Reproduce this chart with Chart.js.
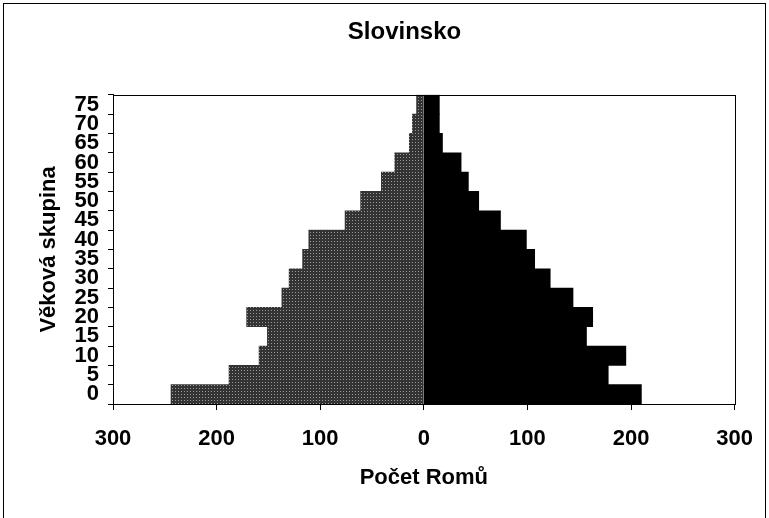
<!DOCTYPE html>
<html>
<head>
<meta charset="utf-8">
<script src="https://cdn.jsdelivr.net/npm/chart.js@4.4.1/dist/chart.umd.min.js"></script>
<style>
  html, body { margin: 0; padding: 0; background: #fff; }
  #wrap { width: 769px; height: 518px; }
</style>
</head>
<body>
<div id="wrap"><canvas id="pyramid" width="769" height="518"></canvas></div>
<script>
// vekove skupiny (zdola nahoru)
var ageGroups = ['0', '5', '10', '15', '20', '25', '30', '35', '40', '45', '50', '55', '60', '65', '70', '75'];
// leva strana (seda)
var leftValues = [244, 188, 159, 151, 171, 137, 130, 117, 111, 76, 61, 41, 28, 14, 11, 7];
// prava strana (cerna)
var rightValues = [210, 178, 195, 157, 163, 144, 122, 107, 99, 74, 53, 43, 36, 18, 15, 15];
var xTicks = [-300, -200, -100, 0, 100, 200, 300];

var fontName = "'Liberation Sans', Arial, sans-serif";
var padLeft = 74; // posune nadpis grafu doprava jako v predloze (popisky osy y se musi vejit)

function makePattern(){
    var c = document.createElement('canvas');
    c.width = 3; c.height = 3;
    var cx = c.getContext('2d');
    cx.fillStyle = '#333';
    cx.fillRect(0, 0, 3, 3);
    cx.fillStyle = '#9a9a9a';
    cx.fillRect(1, 1, 1, 1);
    return document.getElementById('pyramid').getContext('2d').createPattern(c, 'repeat');
}

var frames = {
    id: 'frames',
    beforeDraw: function(chart){
        var ctx = chart.ctx;
        ctx.save();
        ctx.fillStyle = '#fff';
        ctx.fillRect(0, 0, chart.width, chart.height);
        ctx.strokeStyle = '#000';
        ctx.lineWidth = 1;
        ctx.strokeRect(3.5, 3.5, chart.width - 7, chart.height + 10);
        ctx.restore();
    },
    afterDraw: function(chart){
        var a = chart.chartArea;
        var ctx = chart.ctx;
        ctx.save();
        ctx.strokeStyle = '#000';
        ctx.lineWidth = 1;
        ctx.strokeRect(Math.round(a.left) + 0.5, Math.round(a.top) + 0.5, Math.round(a.right - a.left), Math.round(a.bottom - a.top));
        ctx.restore();
    }
};

var config = {
    type: 'bar',
    data: {
        labels: ageGroups,
        datasets: [{
            label: 'muži',
            data: leftValues.map(function(v){ return -v; }),
            backgroundColor: makePattern(),
            borderWidth: 0,
            barPercentage: 1,
            categoryPercentage: 1
        }, {
            label: 'ženy',
            data: rightValues,
            backgroundColor: '#000',
            borderWidth: 0,
            barPercentage: 1,
            categoryPercentage: 1
        }]
    },
    options: {
        indexAxis: 'y',
        responsive: false,
        animation: false,
        devicePixelRatio: 1,
        layout: { padding: { left: padLeft, right: 34, top: 0, bottom: 0 } },
        plugins: {
            legend: { display: false },
            tooltip: { enabled: false },
            title: {
                display: true,
                text: 'Slovinsko',
                color: '#000',
                font: { family: fontName, size: 24, weight: 'bold' },
                padding: { top: 18, bottom: 48 }
            }
        },
        scales: {
            x: {
                stacked: true,
                min: -300,
                max: 300,
                afterBuildTicks: function(scale){
                    scale.ticks = xTicks.map(function(v){ return { value: v }; });
                },
                afterFit: function(scale){ scale.height = 114; },
                ticks: {
                    color: '#000',
                    padding: 16,
                    maxRotation: 0,
                    font: { family: fontName, size: 22, weight: 'bold' },
                    callback: function(v){ return Math.abs(v); }
                },
                grid: { drawOnChartArea: false, drawTicks: true, tickLength: 6, color: '#000' },
                border: { display: true, color: '#000' },
                title: {
                    display: true,
                    text: 'Počet Romů',
                    color: '#000',
                    font: { family: fontName, size: 22, weight: 'bold' },
                    padding: { top: 0, bottom: 27 }
                }
            },
            y: {
                stacked: true,
                reverse: true,
                afterFit: function(scale){ scale.width = 113 - padLeft; },
                ticks: {
                    color: '#000',
                    padding: 9,
                    autoSkip: false,
                    font: { family: fontName, size: 22, weight: 'bold' }
                },
                grid: { drawOnChartArea: false, drawTicks: true, tickLength: 5, color: '#000' },
                border: { display: true, color: '#000' },
                title: {
                    display: true,
                    text: 'Věková skupina',
                    color: '#000',
                    font: { family: fontName, size: 22, weight: 'bold' },
                    padding: { top: 49 - 13 - padLeft, bottom: 0 }
                }
            }
        }
    },
    plugins: [frames]
};

var chartPyramid = new Chart(document.getElementById('pyramid').getContext('2d'), config);
</script>
</body>
</html>
